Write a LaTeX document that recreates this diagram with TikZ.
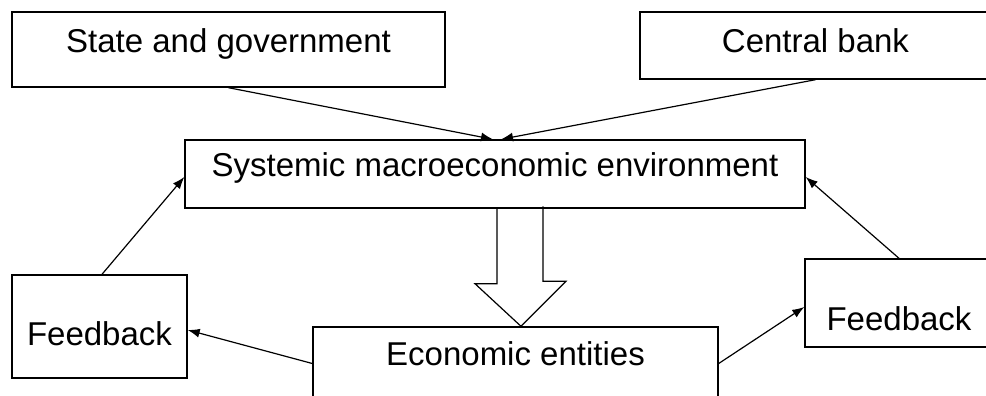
\documentclass[tikz,border=0pt]{standalone}
\usepackage{fontspec}
\setmainfont{Liberation Sans}
\usetikzlibrary{arrows.meta,calc}

\tikzset{
  entitybox/.style={draw, line width=0.7pt, inner xsep=0pt, inner ysep=0pt, anchor=base,
    font=\fontsize{16.5}{19}\selectfont},
  link/.style={line width=0.6pt, -{Latex[length=6pt,width=4.5pt]}},
  flow/.style={draw, line width=0.6pt}
}

\begin{document}
\begin{tikzpicture}[x=0.5pt,y=-0.5pt]
\useasboundingbox (0,0) rectangle (986,396);
\clip (0,0) rectangle (986,396);
% boxes
\node[entitybox, minimum width=216.5pt, text height=20.5pt, text depth=17pt] (gov) at (228.5,53) {State and government};
\node[entitybox, minimum width=175.5pt, text height=20.5pt, text depth=13pt] (cb) at (815.5,53) {Central bank};
\node[entitybox, minimum width=310pt, text height=18pt, text depth=16pt] (env) at (495,176) {Systemic macroeconomic environment};
\node[entitybox, minimum width=202.5pt, text height=19pt, text depth=17.5pt] (econ) at (515.5,365) {Economic entities};
\node[entitybox, minimum width=87.5pt, text height=35pt, text depth=16.5pt] (fbl) at (99.5,345) {Feedback};
\node[entitybox, minimum width=94pt, text height=35.5pt, text depth=8.5pt] (fbr) at (899,330) {Feedback};
% arrows
\draw[link] (gov.south) -- ($(env.north)+(-2,0)$);
\draw[link] (cb.south) -- ($(env.north)+(6,0)$);
\draw[link] ($(fbl.north)+(2.5,0)$) -- ($(env.west)+(0,3)$);
\draw[link] (fbr.north) -- ($(env.east)+(0,3)$);
\draw[link] (econ.west) -- ($(fbl.east)+(0,3.5)$);
\draw[link] (econ.east) -- ($(fbr.west)+(0,4)$);
% block arrow down
\path ($(env.south)+(25,0)$) coordinate (flowtop) ($(econ.north)+(5.5,0)$) coordinate (flowtip);
\draw[flow] ($(flowtop)+(-23,0)$) -- ++(0,75) -- ++(-22,0) -- (flowtip) -- ++(45,-45) -- ++(-23,0) -- ++(0,-75);
\end{tikzpicture}
\end{document}
